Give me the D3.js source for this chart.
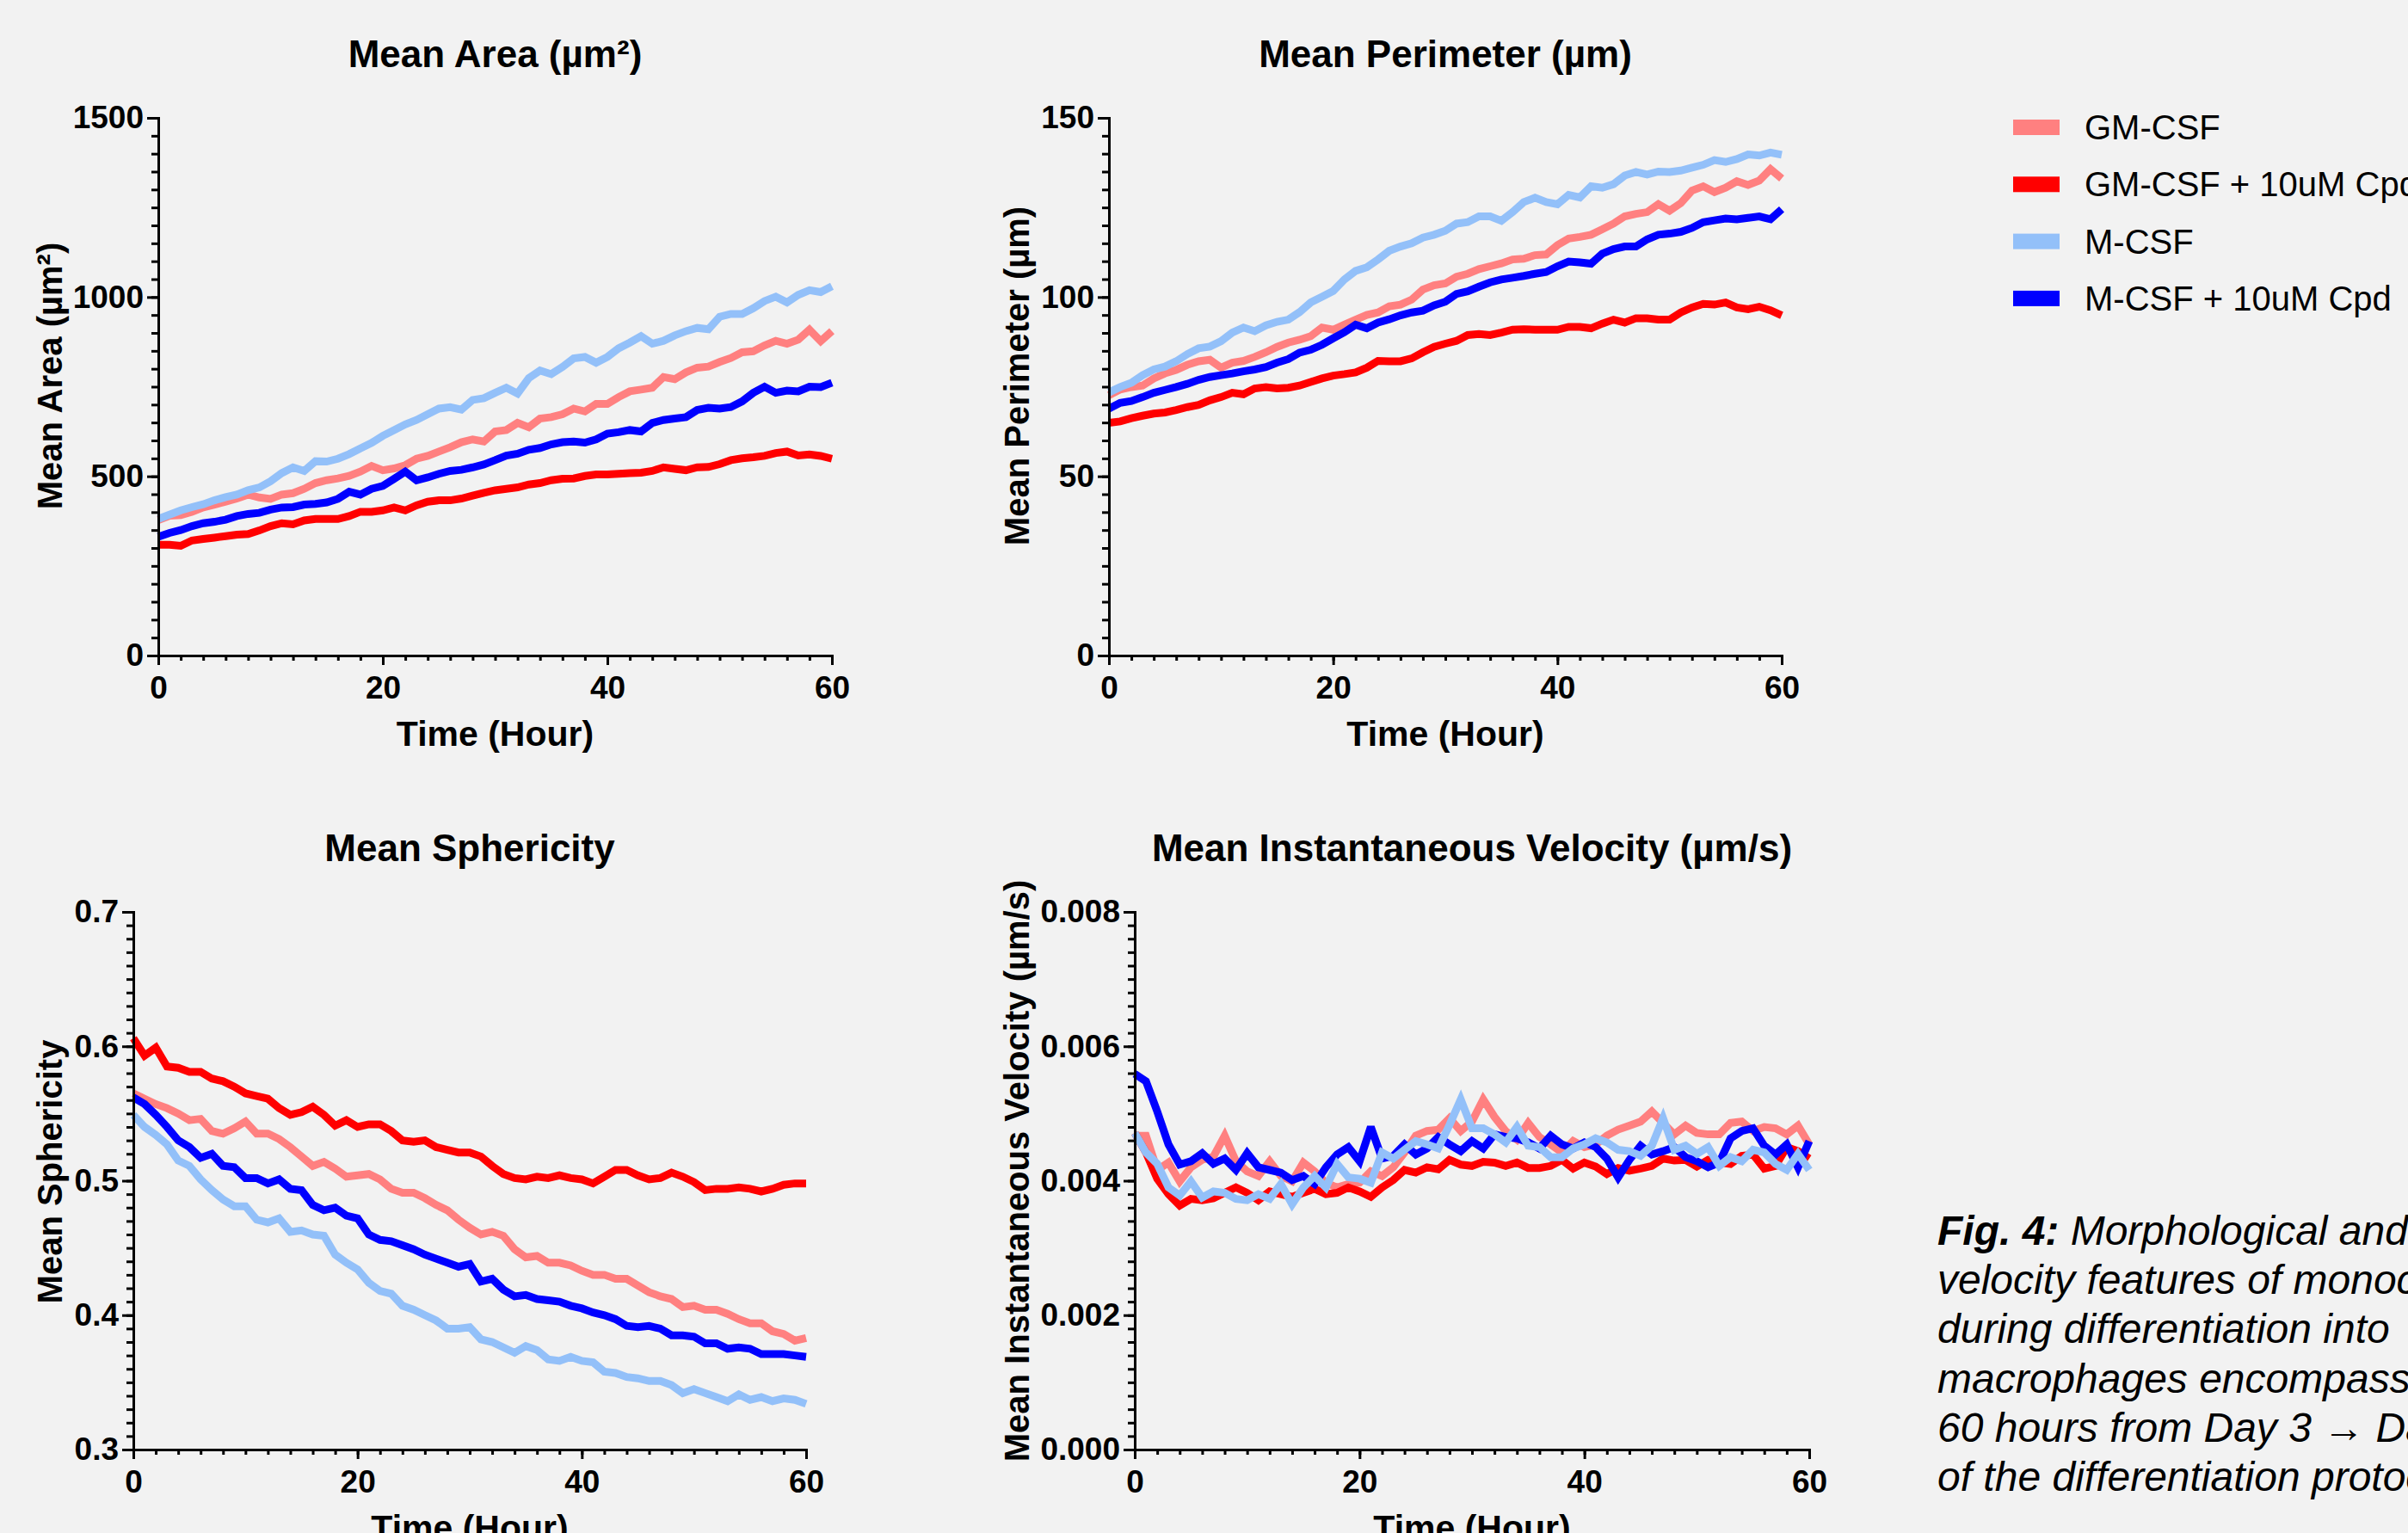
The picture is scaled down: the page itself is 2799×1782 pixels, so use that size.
<!DOCTYPE html>
<html>
<head>
<meta charset="utf-8">
<script src="https://cdn.jsdelivr.net/npm/d3@7"></script>
<style>
  body { margin: 0; background: #f2f2f2; }
  svg { display: block; font-family: "Liberation Sans", Arial, sans-serif; }
  .axis path, .axis line { stroke: #000; stroke-width: 3; }
  .axis path { stroke-linecap: square; }
  .axis text { font-size: 37px; font-weight: bold; fill: #000; }
</style>
</head>
<body>
<div id="chart"></div>
<script>
// time points (hours)
const hours = d3.range(0, 61);

const seriesNames = ["GM-CSF", "GM-CSF + 10uM Cpd", "M-CSF", "M-CSF + 10uM Cpd"];
const seriesColors = ["#ff8080", "#ff0000", "#93c0f9", "#0000ff"];

const xTicks = [0, 20, 40, 60];
const areaTicks = [0, 500, 1000, 1500];
const perimeterTicks = [0, 50, 100, 150];
const sphericityTicks = [0.3, 0.4, 0.5, 0.6, 0.7];
const velocityTicks = [0, 0.002, 0.004, 0.006, 0.008];

// Mean Area (µm²)
const areaGM = [378,390,392,401,413,421,429,438,449,441,
  437,449,453,465,481,489,494,501,513,529,
  517,522,531,549,557,569,581,595,603,597,
  625,629,649,637,661,665,673,689,681,702,
  702,721,737,742,747,777,771,790,803,806,
  819,830,846,849,865,878,870,881,909,877,905];
const areaGMCpd = [309,309,306,321,325,329,333,337,339,349,
  361,369,366,377,381,381,381,389,401,401,
  405,413,405,419,429,433,433,438,446,454,
  461,465,469,477,481,489,493,494,501,505,
  505,507,509,510,515,525,521,517,525,526,
  534,545,550,553,557,565,569,558,561,557,549];
const areaM = [381,393,405,414,422,433,442,449,461,469,
  486,509,525,515,542,541,549,562,578,593,
  613,629,645,657,673,689,693,686,713,718,
  733,747,731,774,795,785,805,829,833,817,
  833,857,873,891,870,878,893,905,914,910,
  945,953,953,969,989,1001,985,1006,1019,1014,1030];
const areaMCpd = [331,342,350,361,369,373,379,389,395,398,
  407,413,414,421,423,427,437,457,449,465,
  473,493,513,489,497,507,515,518,525,533,
  545,558,563,574,579,589,595,597,594,603,
  619,623,629,625,649,657,661,665,685,691,
  689,693,709,733,750,733,739,737,750,749,761];

// Mean Perimeter (µm)
const periGM = [72.6,74.2,74.9,75.3,77.3,78.7,79.7,81.1,82.1,82.5,
  80.3,81.7,82.2,83.3,84.6,86.1,87.3,88.1,89.1,91.5,
  90.9,92.3,93.7,95.0,95.7,97.4,97.9,99.3,102.1,103.3,
  103.8,105.7,106.5,107.8,108.6,109.4,110.5,110.7,111.7,111.9,
  114.5,116.3,116.8,117.4,118.9,120.5,122.5,123.2,123.7,125.9,
  124.1,126.2,129.7,130.9,129.3,130.5,132.3,131.3,132.5,135.7,133.1];
const periGMCpd = [64.9,65.3,66.2,66.9,67.5,67.8,68.5,69.3,69.9,71.2,
  72.1,73.3,72.9,74.5,74.9,74.5,74.7,75.3,76.3,77.3,
  78.1,78.5,79.0,80.3,82.2,82.1,82.1,82.9,84.6,86.1,
  87.0,87.8,89.4,89.7,89.4,90.1,90.9,91.0,90.9,90.9,
  90.9,91.7,91.7,91.3,92.6,93.7,92.9,94.1,94.1,93.7,
  93.7,95.7,97.1,98.1,97.9,98.5,97.1,96.6,97.3,96.3,94.9];
const periM = [73.4,74.9,76.1,78.2,79.8,80.6,82.1,84.1,85.7,86.2,
  87.7,90.1,91.5,90.5,92.1,93.1,93.7,95.8,98.5,100.1,
  101.7,104.9,107.3,108.3,110.5,112.9,114.1,115.0,116.6,117.4,
  118.5,120.5,120.9,122.5,122.5,121.3,123.7,126.5,127.7,126.5,
  125.9,128.5,127.8,130.9,130.5,131.5,133.9,134.9,134.2,135.0,
  134.9,135.3,136.1,136.9,138.2,137.7,138.5,139.8,139.5,140.3,139.7];
const periMCpd = [68.9,70.5,71.0,72.1,73.3,74.1,74.9,75.8,76.9,77.7,
  78.2,78.7,79.3,79.8,80.5,81.7,82.7,84.5,85.3,86.7,
  88.5,90.2,92.3,91.3,92.9,93.8,94.9,95.7,96.2,97.7,
  98.7,100.9,101.6,102.9,104.1,104.9,105.4,105.9,106.5,107.0,
  108.6,109.9,109.7,109.3,112.1,113.4,114.1,114.1,116.1,117.4,
  117.7,118.2,119.3,120.9,121.4,121.9,121.7,122.1,122.5,121.7,124.5];

// Mean Sphericity
const sphGM = [0.565,0.561,0.557,0.554,0.550,0.545,0.546,0.537,0.535,0.539,
  0.544,0.535,0.535,0.531,0.525,0.518,0.511,0.514,0.509,0.503,
  0.504,0.505,0.501,0.494,0.491,0.491,0.487,0.482,0.478,0.471,
  0.465,0.460,0.462,0.459,0.449,0.443,0.444,0.439,0.439,0.437,
  0.433,0.430,0.430,0.427,0.427,0.422,0.417,0.414,0.412,0.406,
  0.407,0.404,0.404,0.401,0.397,0.394,0.394,0.388,0.386,0.381,0.383];
const sphGMCpd = [0.606,0.593,0.599,0.585,0.584,0.581,0.581,0.576,0.574,0.570,
  0.565,0.563,0.561,0.554,0.549,0.551,0.555,0.549,0.541,0.545,
  0.540,0.542,0.542,0.537,0.530,0.529,0.530,0.525,0.523,0.521,
  0.521,0.518,0.511,0.505,0.502,0.501,0.503,0.502,0.504,0.502,
  0.501,0.498,0.503,0.508,0.508,0.504,0.501,0.502,0.506,0.503,
  0.499,0.493,0.494,0.494,0.495,0.494,0.492,0.494,0.497,0.498,0.498];
const sphM = [0.549,0.540,0.534,0.527,0.515,0.511,0.501,0.493,0.486,0.481,
  0.481,0.471,0.469,0.472,0.462,0.463,0.460,0.459,0.445,0.439,
  0.434,0.424,0.418,0.416,0.407,0.404,0.400,0.396,0.390,0.390,
  0.391,0.382,0.380,0.376,0.372,0.377,0.374,0.367,0.366,0.369,
  0.366,0.365,0.358,0.357,0.354,0.353,0.351,0.351,0.348,0.342,
  0.345,0.342,0.339,0.336,0.341,0.337,0.339,0.336,0.338,0.337,0.334];
const sphMCpd = [0.562,0.557,0.549,0.540,0.530,0.525,0.517,0.520,0.511,0.510,
  0.502,0.502,0.498,0.501,0.494,0.493,0.482,0.478,0.480,0.474,
  0.472,0.460,0.456,0.455,0.452,0.449,0.445,0.442,0.439,0.436,
  0.438,0.425,0.427,0.419,0.414,0.415,0.412,0.411,0.410,0.407,
  0.405,0.402,0.400,0.397,0.392,0.391,0.392,0.390,0.385,0.385,
  0.384,0.379,0.379,0.375,0.376,0.375,0.371,0.371,0.371,0.370,0.369];

// Mean Instantaneous Velocity (µm/s)
const velGM = [0.00467,0.00467,0.00416,0.00427,0.00399,0.00420,0.00431,0.00436,0.00467,0.00429,
  0.00414,0.00407,0.00429,0.00407,0.00399,0.00427,0.00414,0.00397,0.00390,0.00395,
  0.00397,0.00414,0.00407,0.00420,0.00442,0.00467,0.00474,0.00476,0.00493,0.00474,
  0.00488,0.00521,0.00495,0.00474,0.00461,0.00486,0.00465,0.00454,0.00442,0.00459,
  0.00450,0.00454,0.00467,0.00476,0.00482,0.00488,0.00503,0.00486,0.00469,0.00482,
  0.00471,0.00469,0.00469,0.00486,0.00488,0.00474,0.00480,0.00478,0.00469,0.00482,0.00454];
const velGMCpd = [0.00471,0.00442,0.00403,0.00380,0.00363,0.00373,0.00371,0.00374,0.00382,0.00390,
  0.00382,0.00371,0.00384,0.00380,0.00376,0.00382,0.00388,0.00380,0.00382,0.00390,
  0.00384,0.00376,0.00390,0.00401,0.00416,0.00412,0.00420,0.00417,0.00431,0.00424,
  0.00422,0.00428,0.00427,0.00422,0.00427,0.00419,0.00419,0.00422,0.00431,0.00418,
  0.00427,0.00421,0.00410,0.00419,0.00415,0.00418,0.00422,0.00433,0.00430,0.00431,
  0.00421,0.00431,0.00427,0.00425,0.00437,0.00439,0.00418,0.00422,0.00450,0.00444,0.00433];
const velM = [0.00471,0.00442,0.00425,0.00390,0.00378,0.00399,0.00375,0.00384,0.00382,0.00373,
  0.00371,0.00380,0.00373,0.00395,0.00365,0.00390,0.00407,0.00390,0.00425,0.00405,
  0.00403,0.00397,0.00442,0.00433,0.00446,0.00459,0.00454,0.00448,0.00483,0.00521,
  0.00478,0.00478,0.00469,0.00457,0.00480,0.00452,0.00450,0.00435,0.00435,0.00448,
  0.00454,0.00463,0.00457,0.00446,0.00444,0.00437,0.00452,0.00493,0.00446,0.00452,
  0.00440,0.00450,0.00422,0.00435,0.00429,0.00446,0.00442,0.00425,0.00416,0.00440,0.00416];
const velMCpd = [0.00559,0.00548,0.00503,0.00454,0.00424,0.00429,0.00441,0.00425,0.00433,0.00416,
  0.00441,0.00420,0.00416,0.00412,0.00401,0.00407,0.00395,0.00420,0.00439,0.00450,
  0.00429,0.00480,0.00433,0.00437,0.00454,0.00439,0.00448,0.00465,0.00454,0.00444,
  0.00459,0.00448,0.00469,0.00465,0.00463,0.00457,0.00448,0.00467,0.00454,0.00448,
  0.00457,0.00450,0.00433,0.00405,0.00431,0.00452,0.00439,0.00444,0.00450,0.00435,
  0.00429,0.00420,0.00427,0.00463,0.00474,0.00478,0.00452,0.00439,0.00454,0.00420,0.00459];

const captionLines = [
  "velocity features of monocytes",
  "during differentiation into",
  "macrophages encompassing",
  "60 hours from Day 3 \u2192 Day 5",
  "of the differentiation protocol."
];

const width = 2799;
const height = 1782;

const svg = d3.select("#chart")
  .append("svg")
  .attr("width", width)
  .attr("height", height);

svg.append("rect")
  .attr("width", width)
  .attr("height", height)
  .attr("fill", "#f2f2f2");

const panels = [
  { title: "Mean Area (\u00b5m\u00b2)", yLabel: "Mean Area (\u00b5m\u00b2)",
    series: [areaGM, areaGMCpd, areaM, areaMCpd], ticks: areaTicks, minorStep: 50, fmt: d3.format("d"),
    left: 184, right: 967, top: 137, bottom: 762, titleY: 78, yLabelX: 72, yLabelY: 437, xLabelY: 867 },
  { title: "Mean Perimeter (\u00b5m)", yLabel: "Mean Perimeter (\u00b5m)",
    series: [periGM, periGMCpd, periM, periMCpd], ticks: perimeterTicks, minorStep: 5, fmt: d3.format("d"),
    left: 1289, right: 2071, top: 137, bottom: 762, titleY: 78, yLabelX: 1196, yLabelY: 437, xLabelY: 867 },
  { title: "Mean Sphericity", yLabel: "Mean Sphericity",
    series: [sphGM, sphGMCpd, sphM, sphMCpd], ticks: sphericityTicks, minorStep: 0.01, fmt: d3.format(".1f"),
    left: 155, right: 937, top: 1060, bottom: 1685, titleY: 1001, yLabelX: 72, yLabelY: 1362, xLabelY: 1790 },
  { title: "Mean Instantaneous Velocity (\u00b5m/s)", yLabel: "Mean Instantaneous Velocity (\u00b5m/s)",
    series: [velGM, velGMCpd, velM, velMCpd], ticks: velocityTicks, minorStep: 0.0002, fmt: d3.format(".3f"),
    left: 1319, right: 2103, top: 1060, bottom: 1685, titleY: 1001, yLabelX: 1196, yLabelY: 1361, xLabelY: 1790 }
];

// light red, red, blue, light blue on top
const drawOrder = [0, 1, 3, 2];

panels.forEach(p => drawPanel(p));

function drawPanel(p) {
  const g = svg.append("g");
  const yMin = p.ticks[0], yMax = p.ticks[p.ticks.length - 1];

  const x = d3.scaleLinear().domain([0, 60]).range([p.left, p.right]);
  const y = d3.scaleLinear().domain([yMin, yMax]).range([p.bottom, p.top]);

  const line = d3.line()
    .x((d, i) => x(hours[i]))
    .y(d => y(d));

  drawOrder.forEach(k => {
    g.append("path")
      .datum(p.series[k])
      .attr("fill", "none")
      .attr("stroke", seriesColors[k])
      .attr("stroke-width", 9)
      .attr("stroke-linejoin", "miter")
      .attr("stroke-miterlimit", 3)
      .attr("d", line);
  });

  // minor ticks
  const yMinor = d3.range(yMin, yMax + p.minorStep / 2, p.minorStep);
  g.append("g")
    .attr("class", "axis")
    .attr("transform", `translate(${p.left},0)`)
    .call(d3.axisLeft(y).tickValues(yMinor).tickSize(8).tickSizeOuter(0).tickFormat(""));

  g.append("g")
    .attr("class", "axis")
    .attr("transform", `translate(0,${p.bottom})`)
    .call(d3.axisBottom(x).tickValues(d3.range(0, 61, 2)).tickSize(6).tickSizeOuter(0).tickFormat(""));

  // major ticks + labels
  g.append("g")
    .attr("class", "axis")
    .attr("transform", `translate(${p.left},0)`)
    .call(d3.axisLeft(y).tickValues(p.ticks).tickSize(13).tickSizeOuter(0).tickPadding(4).tickFormat(p.fmt));

  const xAxis = g.append("g")
    .attr("class", "axis")
    .attr("transform", `translate(0,${p.bottom})`)
    .call(d3.axisBottom(x).tickValues(xTicks).tickSize(11).tickSizeOuter(0));
  xAxis.selectAll("text").attr("y", 50).attr("dy", 0);

  g.append("text")
    .attr("x", (p.left + p.right) / 2)
    .attr("y", p.titleY)
    .attr("text-anchor", "middle")
    .attr("font-size", 44)
    .attr("font-weight", "bold")
    .text(p.title);

  g.append("text")
    .attr("transform", `translate(${p.yLabelX},${p.yLabelY}) rotate(-90)`)
    .attr("text-anchor", "middle")
    .attr("font-size", 40)
    .attr("font-weight", "bold")
    .text(p.yLabel);

  g.append("text")
    .attr("x", (p.left + p.right) / 2)
    .attr("y", p.xLabelY)
    .attr("text-anchor", "middle")
    .attr("font-size", 41)
    .attr("font-weight", "bold")
    .text("Time (Hour)");
}

// legend
const legend = svg.append("g").attr("transform", "translate(2340,148)");
seriesNames.forEach((name, i) => {
  const row = legend.append("g").attr("transform", `translate(0,${i * 66.3})`);
  row.append("rect")
    .attr("x", 0).attr("y", -9)
    .attr("width", 54).attr("height", 18)
    .attr("fill", seriesColors[i]);
  row.append("text")
    .attr("x", 83).attr("y", 14)
    .attr("font-size", 40)
    .text(name);
});

// caption
const caption = svg.append("text")
  .attr("x", 2252)
  .attr("y", 1447)
  .attr("font-size", 48)
  .attr("font-style", "italic");
const first = caption.append("tspan").attr("x", 2252).attr("y", 1447);
first.append("tspan").attr("font-weight", "bold").text("Fig. 4:");
first.append("tspan").text(" Morphological and");
captionLines.forEach((t, i) => {
  caption.append("tspan")
    .attr("x", 2252)
    .attr("y", 1447 + (i + 1) * 57.2)
    .text(t);
});
</script>
</body>
</html>
